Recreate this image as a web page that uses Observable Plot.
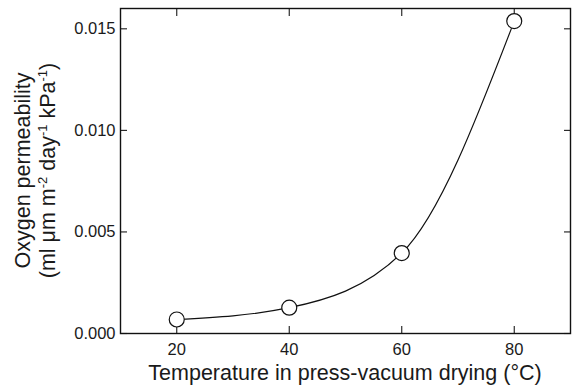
<!DOCTYPE html>
<html>
<head>
<meta charset="utf-8">
<script src="https://cdn.jsdelivr.net/npm/d3@7"></script>
<script src="https://cdn.jsdelivr.net/npm/@observablehq/plot@0.6"></script>
<style>
  html, body { margin: 0; padding: 0; background: #fff; }
  #chart svg { display: block; }
</style>
</head>
<body>
<div id="chart"></div>
<script>
const temperature = [20, 40, 60, 80];
const permeability = [0.00069, 0.00127, 0.00396, 0.01538];
const xTicks = [20, 40, 60, 80];
const yTicks = [0.000, 0.005, 0.010, 0.015];
const xTitle = "Temperature in press-vacuum drying (°C)";
const yTitleLine1 = "Oxygen permeability";

const data = temperature.map((t, i) => ({t, p: permeability[i]}));
const font = "'Liberation Sans', Arial, Helvetica, sans-serif";

const chart = Plot.plot({
  width: 575,
  height: 387,
  marginLeft: 120,
  marginRight: 5,
  marginTop: 8,
  marginBottom: 54,
  style: {fontFamily: font, fontSize: "16.5px", color: "#1a1a1a", background: "white"},
  x: {domain: [10, 90]},
  y: {domain: [0, 0.016]},
  marks: [
    Plot.axisX(xTicks, {anchor: "bottom", tickSize: -7, tickPadding: 17, label: null, fontSize: 16.5, strokeWidth: 1.1}),
    Plot.axisX(xTicks, {anchor: "top", tickSize: -7, tickFormat: () => "", label: null, strokeWidth: 1.1}),
    Plot.axisY(yTicks, {anchor: "left", tickSize: -7, tickPadding: 12, tickFormat: d3.format(".3f"), label: null, fontSize: 16.5, strokeWidth: 1.1}),
    Plot.axisY(yTicks, {anchor: "right", tickSize: -7, tickFormat: () => "", label: null, strokeWidth: 1.1}),
    Plot.frame({stroke: "#111", strokeWidth: 1.4}),
    Plot.line(data, {x: "t", y: "p", curve: "monotone-x", stroke: "#111", strokeWidth: 1.2}),
    Plot.dot(data, {x: "t", y: "p", r: 7.5, fill: "white", stroke: "#111", strokeWidth: 1.2})
  ]
});

const svg = d3.select(chart);
const cx = 120 + (575 - 120 - 5) / 2;
const cy = 8 + (387 - 8 - 54) / 2;

// x-axis title
svg.append("text")
  .attr("x", cx)
  .attr("y", 380)
  .attr("text-anchor", "middle")
  .attr("font-family", font)
  .attr("font-size", 21.5)
  .attr("fill", "#1a1a1a")
  .text(xTitle);

// Two-line rotated y-axis title with superscripts
svg.append("text")
  .attr("transform", `translate(30,${cy}) rotate(-90)`)
  .attr("text-anchor", "middle")
  .attr("font-family", font)
  .attr("font-size", 21.5)
  .attr("fill", "#1a1a1a")
  .text(yTitleLine1);

const line2 = svg.append("text")
  .attr("transform", `translate(55,${cy}) rotate(-90)`)
  .attr("text-anchor", "middle")
  .attr("font-family", font)
  .attr("font-size", 21.5)
  .attr("fill", "#1a1a1a");
const parts = [
  ["(ml μm m", false], ["-2", true], [" day", false], ["-1", true], [" kPa", false], ["-1", true], [")", false]
];
for (const [s, sup] of parts) {
  const ts = line2.append("tspan").text(s);
  if (sup) ts.attr("font-size", 13).attr("baseline-shift", "60%");
}

document.getElementById("chart").appendChild(chart);
</script>
</body>
</html>
